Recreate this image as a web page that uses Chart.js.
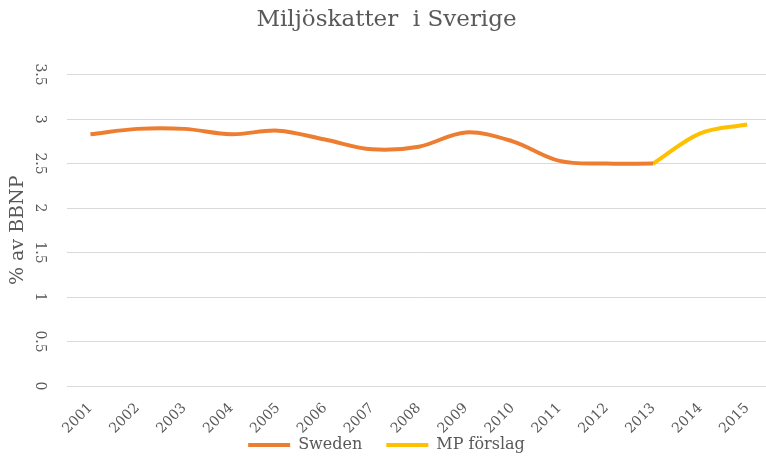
<!DOCTYPE html>
<html>
<head>
<meta charset="utf-8">
<script src="https://cdn.jsdelivr.net/npm/chart.js@4.4.0/dist/chart.umd.min.js"></script>
<style>
    body { margin: 0; overflow: hidden; background: #fff; }
    #wrap { width: 773px; height: 456px; }
</style>
</head>
<body>
<div id="wrap"><canvas id="miljoChart"></canvas></div>
<script>
const years = ['2001', '2002', '2003', '2004', '2005', '2006', '2007', '2008', '2009', '2010', '2011', '2012', '2013', '2014', '2015'];
const swedenValues = [2.83, 2.89, 2.89, 2.83, 2.87, 2.77, 2.66, 2.69, 2.85, 2.75, 2.53, 2.50, 2.50, null, null];
const mpValues = [null, null, null, null, null, null, null, null, null, null, null, null, 2.50, 2.84, 2.94];
const yTicks = [0, 0.5, 1, 1.5, 2, 2.5, 3, 3.5];

const textColor = '#595959';
const serif = "'DejaVu Serif', 'Liberation Serif', serif";
const legendPadding = 24;
const legendHeight = 21;

// legend keeps wide gaps between items but sits tight under the x labels
// (only the top moves, the legend clips to its own box)
const legendLift = {
    id: 'legendLift',
    beforeLayout(chart) {
        const legend = chart.legend;
        if (legend && !legend.fitWrapped) {
            const fit = legend.fit;
            legend.fit = function () {
                fit.call(this);
                this.height = legendHeight;
            };
            legend.fitWrapped = true;
        }
    },
    afterLayout(chart) {
        chart.legend.top -= legendPadding - 2;
        chart.legend.adjustHitBoxes();
    }
};

function initMiljoChart() {
    const ctx = document.getElementById('miljoChart').getContext('2d');

    const data = {
        labels: years,
        datasets: [
            {
                label: 'Sweden',
                data: swedenValues,
                borderColor: '#ED7D31',
                backgroundColor: '#ED7D31',
                borderWidth: 4,
                pointRadius: 0,
                tension: 0.35,
                fill: false
            },
            {
                label: 'MP förslag',
                data: mpValues,
                borderColor: '#FFC000',
                backgroundColor: '#FFC000',
                borderWidth: 4,
                pointRadius: 0,
                tension: 0.35,
                fill: false
            }
        ]
    };

    const options = {
        responsive: true,
        maintainAspectRatio: false,
        animation: false,
        layout: { padding: 0 },
        scales: {
            x: {
                offset: true,
                afterFit(scale) {
                    scale.height = 49;
                },
                grid: { display: false, drawTicks: false },
                border: { display: false },
                ticks: {
                    color: textColor,
                    font: { family: serif, size: 14 },
                    minRotation: 45,
                    maxRotation: 45,
                    padding: 14
                }
            },
            y: {
                min: 0,
                max: 3.5,
                afterBuildTicks(scale) {
                    scale.ticks = yTicks.map(v => ({ value: v }));
                },
                afterFit(scale) {
                    scale.width = 67; // plot starts where the original does
                },
                grid: { color: '#D9D9D9', lineWidth: 1, drawTicks: false },
                border: { display: false },
                ticks: {
                    color: textColor,
                    font: { family: serif, size: 14 },
                    minRotation: -90,
                    maxRotation: -90,
                    crossAlign: 'center',
                    padding: 16,
                    callback: v => String(v)
                },
                title: {
                    display: true,
                    text: '% av BBNP',
                    color: textColor,
                    font: { family: serif, size: 19 },
                    padding: { top: 7, bottom: 0 }
                }
            }
        },
        plugins: {
            title: {
                display: true,
                text: 'Miljöskatter  i Sverige',
                color: textColor,
                font: { family: serif, size: 23, weight: 'normal' },
                padding: { top: 6, bottom: 41 }
            },
            legend: {
                position: 'bottom',
                labels: {
                    color: textColor,
                    font: { family: serif, size: 16 },
                    usePointStyle: true,
                    pointStyle: 'line',
                    pointStyleWidth: 42,
                    padding: legendPadding
                }
            },
            tooltip: { enabled: false }
        }
    };

    new Chart(ctx, {
        type: 'line',
        data: data,
        options: options,
        plugins: [legendLift]
    });
}

initMiljoChart();
</script>
</body>
</html>
